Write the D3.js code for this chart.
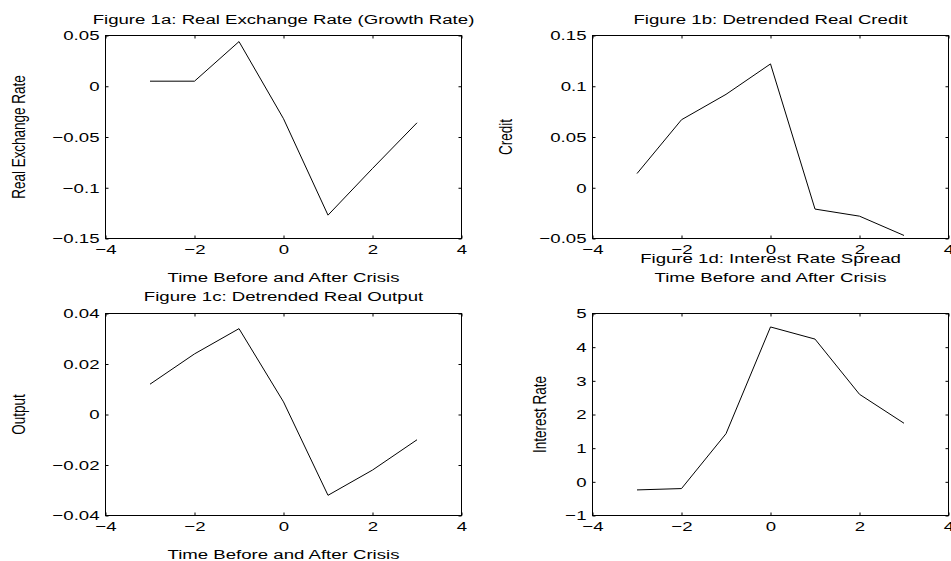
<!DOCTYPE html>
<html>
<head>
<meta charset="utf-8">
<script src="https://cdn.jsdelivr.net/npm/d3@7"></script>
<style>
  body { margin: 0; background: #fff; }
  svg { display: block; font-family: "Liberation Sans", Arial, sans-serif; }
</style>
</head>
<body>
<svg id="chart" width="951" height="561"></svg>
<script>
// data
const periods = [-3, -2, -1, 0, 1, 2, 3];
const xTicks = [-4, -2, 0, 2, 4];

const exchangeRate = [0.005, 0.005, 0.044, -0.032, -0.127, -0.081, -0.036];
const credit = [0.014, 0.067, 0.092, 0.122, -0.021, -0.028, -0.047];
const output = [0.012, 0.024, 0.034, 0.005, -0.032, -0.022, -0.010];
const spread = [-0.24, -0.20, 1.43, 4.60, 4.24, 2.60, 1.74];

const exchangeTicks = [-0.15, -0.1, -0.05, 0, 0.05];
const creditTicks = [-0.05, 0, 0.05, 0.1, 0.15];
const outputTicks = [-0.04, -0.02, 0, 0.02, 0.04];
const spreadTicks = [-1, 0, 1, 2, 3, 4, 5];

const titles = [
  'Figure 1a: Real Exchange Rate (Growth Rate)',
  'Figure 1b: Detrended Real Credit',
  'Figure 1c: Detrended Real Output',
  'Figure 1d: Interest Rate Spread'
];
const yLabels = ['Real Exchange Rate', 'Credit', 'Output', 'Interest Rate'];
const xLabel = 'Time Before and After Crisis';

// layout (matlab-ish subplot positions)
const FONT = 13.5, STRETCH = 1.38;
const panels = [
  { values: exchangeRate, ticks: exchangeTicks, left: 105.5, top: 35.5, w: 356, h: 203, titleY: 24, showX: true },
  { values: credit, ticks: creditTicks, left: 592.5, top: 35.5, w: 356, h: 203, titleY: 24, showX: true },
  { values: output, ticks: outputTicks, left: 105.5, top: 313.5, w: 356, h: 202, titleY: 301, showX: true },
  { values: spread, ticks: spreadTicks, left: 592.5, top: 313.5, w: 356, h: 202, titleY: 263, showX: false }
];

const svg = d3.select('#chart');

// text drawn a bit wider than the font, like the original export
function wideText(g, x, y, str, rotate) {
  return g.append('text')
    .attr('transform', `translate(${x},${y}) scale(${STRETCH},1)` + (rotate ? ' rotate(-90)' : ''))
    .attr('text-anchor', 'middle')
    .style('font-size', FONT + 'px')
    .attr('fill', '#000')
    .text(str);
}

panels.forEach((p, i) => {
  const g = svg.append('g').attr('transform', `translate(${p.left},${p.top})`);

  const x = d3.scaleLinear().domain([-4, 4]).range([0, p.w]);
  const y = d3.scaleLinear().domain(d3.extent(p.ticks)).range([p.h, 0]);
  const fmt = d3.format('~g');

  // bottom + left axes with labels, ticks pointing inwards
  const gx = g.append('g')
    .attr('transform', `translate(0,${p.h})`)
    .call(d3.axisBottom(x).tickValues(xTicks).tickFormat(fmt).tickSize(-3).tickSizeOuter(0).tickPadding(6.4));
  const gy = g.append('g')
    .call(d3.axisLeft(y).tickValues(p.ticks).tickFormat(fmt).tickSize(-3).tickSizeOuter(0).tickPadding(6));

  // top + right ticks only
  g.append('g')
    .call(d3.axisTop(x).tickValues(xTicks).tickFormat('').tickSize(-3).tickSizeOuter(0));
  g.append('g')
    .attr('transform', `translate(${p.w},0)`)
    .call(d3.axisRight(y).tickValues(p.ticks).tickFormat('').tickSize(-3).tickSizeOuter(0));

  g.selectAll('.domain').remove();
  g.selectAll('.tick line').attr('stroke', '#000');
  g.selectAll('.tick text')
    .attr('fill', '#000')
    .style('font-size', FONT + 'px')
    .style('font-family', '"Liberation Sans", Arial, sans-serif');
  gx.selectAll('.tick text').attr('transform', `scale(${STRETCH},1)`);
  gy.selectAll('.tick text')
    .attr('x', -6 / STRETCH)
    .attr('transform', `scale(${STRETCH},1)`);

  // box
  g.append('rect')
    .attr('width', p.w)
    .attr('height', p.h)
    .attr('fill', 'none')
    .attr('stroke', '#000')
    .attr('stroke-width', 1);

  // series line
  const line = d3.line()
    .x((d, k) => x(periods[k]))
    .y(d => y(d));
  g.append('path')
    .datum(p.values)
    .attr('fill', 'none')
    .attr('stroke', '#000')
    .attr('stroke-width', 1)
    .attr('d', line);

  // title
  wideText(svg, p.left + p.w / 2, p.titleY, titles[i]);

  // x label
  if (p.showX) wideText(svg, p.left + p.w / 2, p.top + p.h + 43.5, xLabel);

  // y label placed off the widest tick label
  const labelW = d3.max(gy.selectAll('.tick text').nodes(), n => n.getBBox().width) * STRETCH;
  wideText(svg, p.left - 6 - labelW * 1.3 - 13, p.top + p.h / 2, yLabels[i], true);
});
</script>
</body>
</html>
